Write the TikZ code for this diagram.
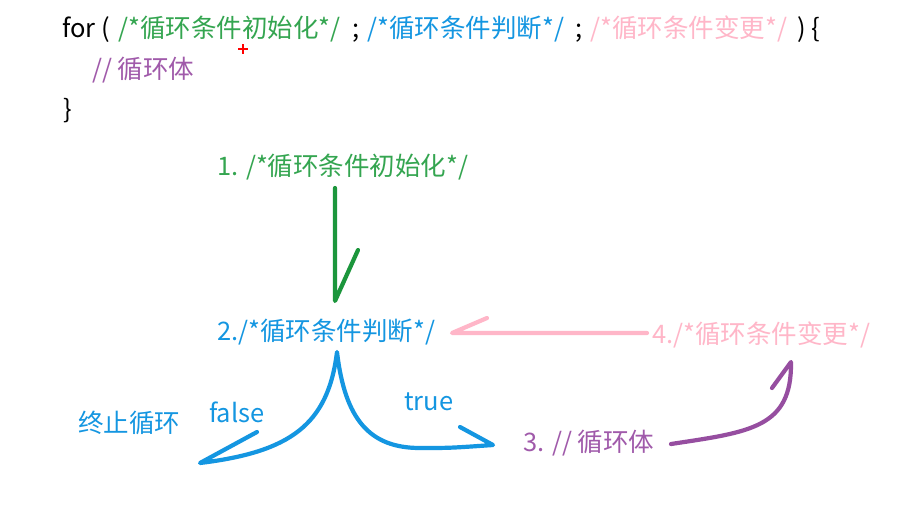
\documentclass[tikz,border=0pt]{standalone}
\usepackage{fontspec}
\setmainfont{Noto Sans CJK SC}
\definecolor{cgreen}{RGB}{52,165,80}
\definecolor{cgreenD}{RGB}{28,150,60}
\definecolor{cblue}{RGB}{20,150,225}
\definecolor{cpink}{RGB}{255,182,200}
\definecolor{cpurple}{RGB}{160,90,170}
\definecolor{cpurpleD}{RGB}{150,78,160}
\tikzset{
  txt/.style={inner sep=0pt, anchor=base west, font=\fontsize{25.5}{30}\selectfont},
  pen/.style={line width=4.2pt, line cap=round, line join=round},
}
\begin{document}
\begin{tikzpicture}[x=1pt,y=-1pt]
\useasboundingbox[fill=white] (0,0) rectangle (911,515);
% code lines
\node[txt] (for) at (62,37) {for (};
\node[txt, text=cgreen] (c1) at (118,37) {/*循环条件初始化*/};
\node[txt] (s1) at (352,37) {;};
\node[txt, text=cblue] (c2) at (367,37) {/*循环条件判断*/};
\node[txt] (s2) at (575,37) {;};
\node[txt, text=cpink] (c3) at (590,37) {/*循环条件变更*/};
\node[txt] (br) at (797,37) {) \{};
\node[txt, text=cpurple] (body) at (92,78) {// 循环体};
\node[txt] (close) at (63,118) {\}};
% cursor mark
\draw[red, line width=1.6pt] (238,49) -- (248,49) (243,44) -- (243,54);
% labels
\node[txt, text=cgreen] (l1) at (217,175) {1. /*循环条件初始化*/};
\node[txt, text=cblue] (l2) at (217,340) {2./*循环条件判断*/};
\node[txt, text=cpink] (l4) at (652,343) {4./*循环条件变更*/};
\node[txt, text=cpurple] (l3) at (523,451) {3. // 循环体};
\node[txt, text=cblue] (stop) at (78,432) {终止循环};
\node[txt, text=cblue] (false) at (209,422) {false};
\node[txt, text=cblue] (true) at (404,410) {true};
% arrow coordinates
\coordinate (gA) at (335,188);
\coordinate (gB) at (335,301);
\coordinate (gC) at (358,250);
\coordinate (pA) at (647,333);
\coordinate (pB) at (452,333);
\coordinate (pC) at (487,318);
\coordinate (peak) at (337,352);
\coordinate (fEnd) at (200,463);
\coordinate (fHead) at (257,432);
\coordinate (tMid) at (420,448);
\coordinate (tEnd) at (493,445);
\coordinate (tHead) at (460,427);
\coordinate (uA) at (671,444);
\coordinate (uB) at (791,362);
\coordinate (uC) at (772,388);
% green: init -> condition
\draw[pen, cgreenD] (gA) -- (gB) -- (gC);
% pink: update -> condition
\draw[pen, cpink] (pA) -- (pB) -- (pC);
% blue: condition -> false / true
\draw[pen, cblue] (fHead) -- (fEnd) .. controls (290,452) and (328,425) .. (peak)
  .. controls (345,420) and (370,448) .. (tMid) .. controls (450,448) .. (tEnd) -- (tHead);
% purple: body -> update
\draw[pen, cpurpleD] (uA) .. controls (750,432) and (792,428) .. (uB) -- (uC);
\end{tikzpicture}
\end{document}
